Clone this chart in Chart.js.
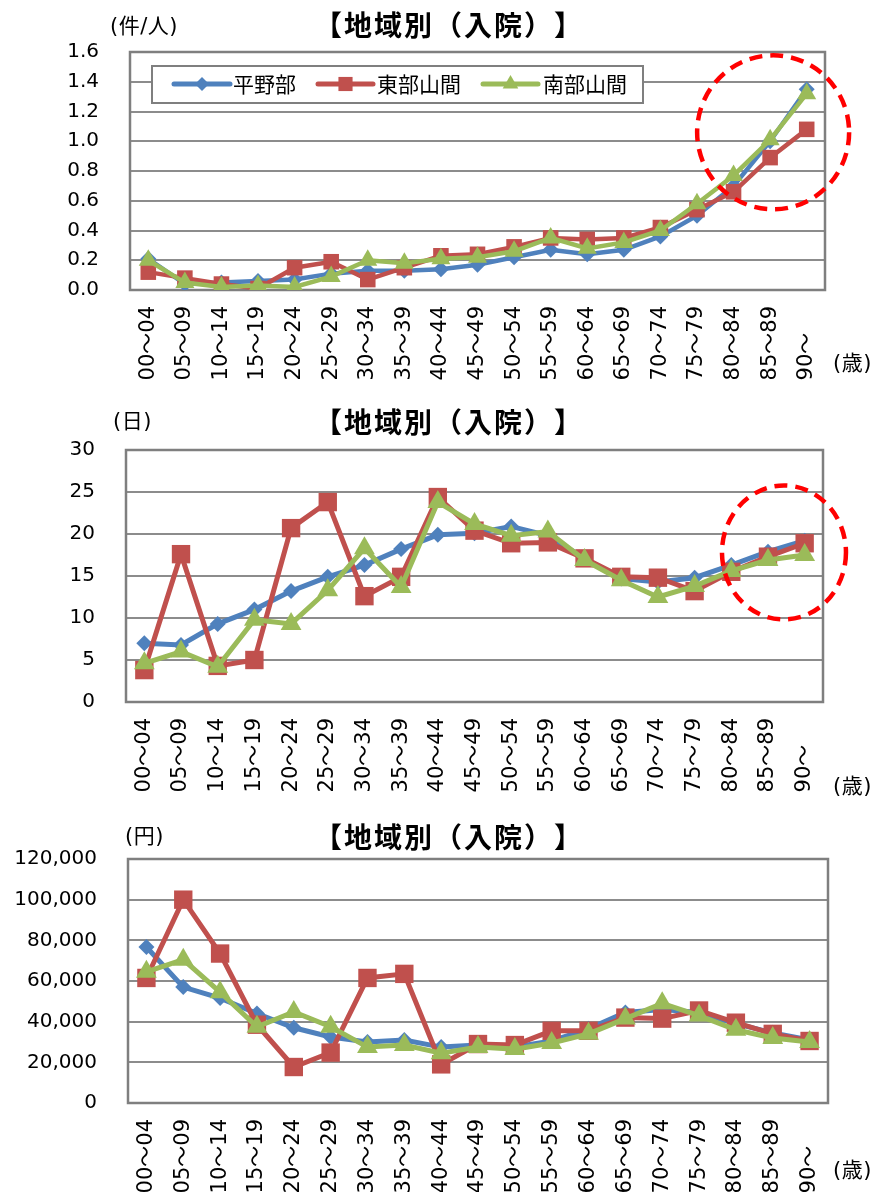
<!DOCTYPE html>
<html><head><meta charset="utf-8">
<script src="https://cdn.jsdelivr.net/npm/chart.js@4"></script>
<style>
html,body{margin:0;padding:0;background:#fff}
body{width:874px;height:1192px;position:relative;overflow:hidden}
.box{position:absolute;left:0;width:874px}
canvas{display:block}
</style></head><body>
<div class="box" style="top:0;height:400px"><canvas id="c1"></canvas></div>
<div class="box" style="top:400px;height:410px"><canvas id="c2"></canvas></div>
<div class="box" style="top:810px;height:382px"><canvas id="c3"></canvas></div>
<script>
const categories = ['00～04','05～09','10～14','15～19','20～24','25～29','30～34','35～39','40～44','45～49','50～54','55～59','60～64','65～69','70～74','75～79','80～84','85～89','90～'];
const seriesNames = ['平野部','東部山間','南部山間'];
const chartTitle = '【地域別（入院）】';
const ageUnit = '(歳)';

// Chart 1: 件/人
const rateUnit = '(件/人)';
const rateTicks = [0,0.2,0.4,0.6,0.8,1.0,1.2,1.4,1.6];
const rateHeiya = [0.21,0.04,0.05,0.06,0.07,0.11,0.13,0.13,0.14,0.17,0.22,0.27,0.24,0.27,0.36,0.50,0.70,1.00,1.35];
const rateToubu = [0.12,0.08,0.04,0.01,0.15,0.19,0.07,0.15,0.23,0.24,0.29,0.35,0.34,0.35,0.42,0.54,0.66,0.89,1.08];
const rateNanbu = [0.20,0.05,0.02,0.03,0.02,0.09,0.20,0.18,0.21,0.22,0.26,0.35,0.28,0.32,0.40,0.58,0.77,1.01,1.32];

// Chart 2: 日
const dayUnit = '(日)';
const dayTicks = [0,5,10,15,20,25,30];
const dayHeiya = [7.0,6.8,9.3,11.0,13.2,14.9,16.3,18.2,19.9,20.1,20.9,19.8,17.1,14.7,14.3,14.8,16.3,17.9,19.2];
const dayToubu = [3.8,17.6,4.3,5.0,20.7,23.8,12.6,14.9,24.4,20.4,18.9,19.0,17.1,14.9,14.8,13.2,15.5,17.3,18.9];
const dayNanbu = [4.6,6.0,4.2,9.8,9.3,13.3,18.3,13.7,23.8,21.2,19.8,20.3,16.9,14.5,12.5,13.8,15.6,16.9,17.5];

// Chart 3: 円
const yenUnit = '(円)';
const yenTicks = [0,20000,40000,60000,80000,100000,120000];
const yenHeiya = [76700,57000,51600,44000,37000,32500,30000,31000,27500,28500,27500,30500,36500,44500,46000,44500,39000,34500,31000];
const yenToubu = [61500,100000,73500,38500,17700,24800,61500,63500,19000,29000,28500,35500,35500,42000,41500,45500,39500,34000,30500];
const yenNanbu = [64500,70500,54500,37500,44800,37500,27500,28500,24500,27500,26500,29500,34000,41500,49000,43000,36000,32000,30000];

const COLORS = ['#4F81BD','#C0504D','#9BBB59'];
const STYLES = ['rectRot','rect','triangle'];
const FONT = "'DejaVu Sans','Noto Sans CJK JP',sans-serif";
const CJK = "'Noto Sans CJK JP','DejaVu Sans',sans-serif";

function padLabel(s){
  let out = s;
  for (let i = s.length; i < 5; i++) out += '\u2007';
  return out;
}

function drawMarker(ctx, style, x, y, r, color){
  ctx.save();
  ctx.fillStyle = color;
  ctx.beginPath();
  if (style === 'rectRot'){
    ctx.moveTo(x, y - r); ctx.lineTo(x + r, y); ctx.lineTo(x, y + r); ctx.lineTo(x - r, y);
  } else if (style === 'rect'){
    const h = r * Math.SQRT1_2;
    ctx.rect(x - h, y - h, 2*h, 2*h);
  } else {
    ctx.moveTo(x, y - r);
    ctx.lineTo(x + r*Math.sin(2*Math.PI/3), y - r*Math.cos(2*Math.PI/3));
    ctx.lineTo(x + r*Math.sin(4*Math.PI/3), y - r*Math.cos(4*Math.PI/3));
  }
  ctx.closePath(); ctx.fill();
  ctx.restore();
}

function drawTitle(ctx, y){
  ctx.save();
  ctx.fillStyle = '#000';
  ctx.font = "bold 28px " + CJK;
  ctx.textAlign = 'center';
  ctx.textBaseline = 'middle';
  const chars = Array.from(chartTitle);
  const adv = 30, left = 313;
  chars.forEach((c, i) => ctx.fillText(c, left + adv*(i + 0.5), y));
  ctx.restore();
}

function makeChart(id, cfg){
  const ds = cfg.series.map((vals, i) => ({
    label: seriesNames[i],
    data: vals,
    borderColor: COLORS[i],
    backgroundColor: COLORS[i],
    borderWidth: cfg.lineWidth,
    pointStyle: STYLES[i],
    pointRadius: cfg.radii[i],
    pointHoverRadius: cfg.radii[i],
    pointBorderWidth: 0,
    pointBackgroundColor: COLORS[i],
    tension: 0,
    order: 2 - i
  }));
  const deco = {
    id: 'deco' + id,
    beforeDatasetsDraw(chart){
      const {ctx, chartArea: a} = chart;
      ctx.save();
      ctx.strokeStyle = '#7f7f7f';
      ctx.lineWidth = 2.5;
      ctx.strokeRect(a.left, a.top, a.right - a.left, a.bottom - a.top);
      ctx.restore();
    },
    afterDraw(chart){
      const {ctx} = chart;
      drawTitle(ctx, cfg.titleY);
      ctx.save();
      ctx.fillStyle = '#000';
      ctx.textBaseline = 'middle';
      ctx.textAlign = 'left';
      ctx.font = "21px " + FONT;
      ctx.letterSpacing = '0.5px';
      ctx.fillText(cfg.unit, cfg.unitX, cfg.unitY);
      ctx.fillText(ageUnit, 833, cfg.ageY);
      ctx.letterSpacing = '0px';
      ctx.restore();
      if (cfg.legend){
        ctx.save();
        ctx.fillStyle = '#fff';
        ctx.strokeStyle = '#7f7f7f';
        ctx.lineWidth = 2;
        ctx.fillRect(152, 66, 491, 37);
        ctx.strokeRect(152, 66, 491, 37);
        const items = [[174,230,233],[318,373,377],[483,538,543]];
        items.forEach((it, i) => {
          ctx.strokeStyle = COLORS[i];
          ctx.lineWidth = 5;
          ctx.lineCap = 'round';
          ctx.beginPath(); ctx.moveTo(it[0], 84); ctx.lineTo(it[1], 84); ctx.stroke();
          drawMarker(ctx, STYLES[i], (it[0]+it[1])/2, 84, [7,10,9][i], COLORS[i]);
          ctx.fillStyle = '#000';
          ctx.font = "21px " + CJK;
          ctx.textBaseline = 'middle';
          ctx.textAlign = 'left';
          ctx.fillText(seriesNames[i], it[2], 84);
        });
        ctx.restore();
      }
      if (cfg.circle){
        const x = chart.scales.x.getPixelForValue(cfg.circle.i) + cfg.circle.dx;
        const y = chart.scales.y.getPixelForValue(cfg.circle.v);
        ctx.save();
        ctx.strokeStyle = '#FF0000';
        ctx.lineWidth = 4.5;
        ctx.setLineDash([13, 8]);
        ctx.beginPath();
        ctx.ellipse(x, y, cfg.circle.rx, cfg.circle.ry, 0, 0, Math.PI*2);
        ctx.stroke();
        ctx.restore();
      }
    }
  };
  const canvas = document.getElementById(id);
  canvas.width = 874; canvas.height = cfg.height;
  canvas.style.width = '874px'; canvas.style.height = cfg.height + 'px';
  const yWidth = cfg.plotLeft - 10;
  return new Chart(canvas, {
    type: 'line',
    data: { labels: categories, datasets: ds },
    options: {
      responsive: false,
      animation: false,
      devicePixelRatio: 1,
      layout: { padding: { left: 10, right: cfg.padRight, top: cfg.padTop, bottom: 0 } },
      plugins: { legend: { display: false }, tooltip: { enabled: false } },
      scales: {
        x: {
          type: 'category',
          offset: true,
          grid: { display: false },
          border: { display: false },
          afterFit(s){ s.height = cfg.xHeight; },
          ticks: {
            autoSkip: false, maxRotation: 90, minRotation: 90, padding: 8,
            color: '#000', font: { family: FONT, size: 21 },
            callback(v){ return padLabel(categories[v]); }
          }
        },
        y: {
          min: cfg.ticks[0], max: cfg.ticks[cfg.ticks.length - 1],
          afterFit(s){ s.width = yWidth; },
          afterBuildTicks(s){ s.ticks = cfg.ticks.map(v => ({ value: v })); },
          grid: { color: '#8c8c8c', lineWidth: 2, drawTicks: false },
          border: { display: false },
          ticks: {
            padding: 31, color: '#000', font: { family: FONT, size: 20 },
            callback: cfg.fmt
          }
        }
      }
    },
    plugins: [deco]
  });
}

makeChart('c1', {
  height: 400, series: [rateHeiya, rateToubu, rateNanbu], ticks: rateTicks,
  fmt: v => Number(v).toFixed(1),
  plotLeft: 130, padRight: 49, padTop: 52, xHeight: 110,
  lineWidth: 4.5, radii: [8, 11, 11],
  titleY: 25, unit: rateUnit, unitX: 110, unitY: 28, ageY: 365,
  legend: true, circle: { i: 17, dx: 3, v: 1.06, rx: 76, ry: 77 }
});
makeChart('c2', {
  height: 410, series: [dayHeiya, dayToubu, dayNanbu], ticks: dayTicks,
  fmt: v => String(v),
  plotLeft: 126, padRight: 51, padTop: 50, xHeight: 108,
  lineWidth: 5, radii: [8, 13, 12],
  titleY: 22, unit: dayUnit, unitX: 113, unitY: 23, ageY: 388,
  circle: { i: 17, dx: 16, v: 17.8, rx: 62, ry: 67 }
});
makeChart('c3', {
  height: 382, series: [yenHeiya, yenToubu, yenNanbu], ticks: yenTicks,
  fmt: v => Number(v).toLocaleString('en-US'),
  plotLeft: 128, padRight: 46, padTop: 49, xHeight: 89,
  lineWidth: 5, radii: [8, 13, 12],
  titleY: 27, unit: yenUnit, unitX: 125, unitY: 28, ageY: 362
});
</script>
</body></html>
